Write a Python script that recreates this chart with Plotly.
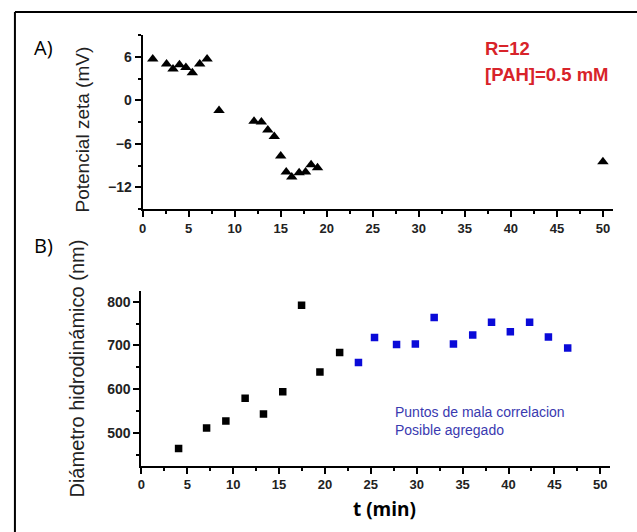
import plotly.graph_objects as go

# Panel A: zeta potential
zeta_t = [1.1, 2.6, 3.3, 4.0, 4.7, 5.4, 6.2, 7.0, 8.3, 12.1, 12.9, 13.6, 14.3, 15.0, 15.6, 16.2, 17.0, 17.7, 18.3, 19.0, 50.0]
zeta_mv = [5.7, 5.0, 4.3, 4.9, 4.5, 3.8, 5.0, 5.7, -1.4, -2.9, -3.0, -4.1, -5.0, -7.7, -9.9, -10.6, -10.0, -9.9, -8.9, -9.3, -8.5]

# Panel B: hydrodynamic diameter
diam_t_good = [4.05, 7.1, 9.2, 11.3, 13.3, 15.4, 17.45, 19.45, 21.6]
diam_nm_good = [464, 511, 527, 579, 543, 594, 792, 639, 684]
diam_t_bad = [23.65, 25.4, 27.8, 29.85, 31.9, 34.0, 36.1, 38.15, 40.2, 42.3, 44.35, 46.45]
diam_nm_bad = [661, 718, 702, 703, 764, 703, 724, 753, 731, 753, 719, 694]

x_ticks = [0, 5, 10, 15, 20, 25, 30, 35, 40, 45, 50]
zeta_ticks = [-12, -6, 0, 6]
diam_ticks = [500, 600, 700, 800]

W, H = 637, 532
def px(x):
    return x / W
def py(y):
    return 1 - y / H

fig = go.Figure()
fig.add_trace(go.Scatter(x=zeta_t, y=zeta_mv, mode="markers",
                         marker=dict(symbol="triangle-up", size=10, color="black"),
                         xaxis="x", yaxis="y", showlegend=False))
fig.add_trace(go.Scatter(x=diam_t_good, y=diam_nm_good, mode="markers",
                         marker=dict(symbol="square", size=7.5, color="black"),
                         xaxis="x2", yaxis="y2", showlegend=False))
fig.add_trace(go.Scatter(x=diam_t_bad, y=diam_nm_bad, mode="markers",
                         marker=dict(symbol="square", size=7.5, color="#0a0ad8"),
                         xaxis="x2", yaxis="y2", showlegend=False))

xtickfont = dict(family="Liberation Sans, Arial", size=13, color="#222222", weight="bold")
ytickfont = dict(family="Liberation Sans, Arial", size=14, color="#222222", weight="bold")
common_x = dict(range=[0, 51.1], tickvals=x_ticks, showline=True, linecolor="black", linewidth=2,
                ticks="outside", ticklen=6, tickwidth=2, tickcolor="black", showgrid=False,
                zeroline=False, tickfont=xtickfont,
                minor=dict(dtick=2.5, tick0=0, ticks="outside", ticklen=3, tickwidth=2,
                           tickcolor="black", showgrid=False))
common_y = dict(showline=True, linecolor="black", linewidth=2, ticks="outside", ticklen=6,
                tickwidth=2, tickcolor="black", showgrid=False, zeroline=False, tickfont=ytickfont)

fig.update_layout(
    width=W, height=H, margin=dict(l=0, r=0, t=0, b=0),
    paper_bgcolor="white", plot_bgcolor="white",
    xaxis=dict(domain=[px(139.5), px(612.9)], anchor="y", **common_x),
    yaxis=dict(domain=[py(209), py(35)], anchor="x", range=[-15, 9], tickvals=zeta_ticks,
               minor=dict(tickvals=[-15, -9, -3, 3, 9], ticks="outside", ticklen=3, tickwidth=2,
                          tickcolor="black", showgrid=False),
               **common_y),
    xaxis2=dict(domain=[px(138.3), px(610.2)], anchor="y2", **common_x),
    yaxis2=dict(domain=[py(465.5), py(290.8)], anchor="x2", range=[425, 825], tickvals=diam_ticks,
                minor=dict(tickvals=[450, 550, 650, 750], ticks="outside", ticklen=3, tickwidth=2,
                           tickcolor="black", showgrid=False),
                **common_y),
)

def ann(text, x, y, size, color="black", bold=False, angle=0, xanchor="center", family="Liberation Sans, Arial"):
    fig.add_annotation(text=text, x=px(x), y=py(y), xref="paper", yref="paper",
                       showarrow=False, xanchor=xanchor, yanchor="middle", textangle=angle,
                       font=dict(family=family, size=size, color=color,
                                 weight="bold" if bold else "normal"))

ann("A)", 28, 47, 20, xanchor="left", family="Open Sans, Liberation Sans")
ann("B)", 28, 245, 20, xanchor="left", family="Open Sans, Liberation Sans")
ann("R=12", 482, 49, 18.5, color="#d8232a", bold=True, xanchor="left")
ann("[PAH]=0.5 mM", 482, 74, 18.5, color="#d8232a", bold=True, xanchor="left")
ann("Puntos de mala correlacion", 391, 412, 14, color="#3a3ab0", xanchor="left")
ann("Posible agregado", 391, 430, 14, color="#3a3ab0", xanchor="left")
ann("Potencial zeta (mV)", 78, 130, 19, color="#222222", angle=-90)
ann("Diámetro hidrodinámico (nm)", 73, 369, 20, color="#222222", angle=-90)
ann("t (min)", 383, 509, 19, bold=True, family="Open Sans, Liberation Sans")

# frame lines (top and left)
fig.add_shape(type="line", xref="paper", yref="paper", x0=px(11), y0=py(12), x1=1, y1=py(12),
              line=dict(color="black", width=2))
fig.add_shape(type="line", xref="paper", yref="paper", x0=px(11), y0=py(12), x1=px(11), y1=0,
              line=dict(color="black", width=2))

fig.write_html("out.html", config={"displayModeBar": False},
               post_script="document.body.style.margin='0';document.body.style.overflow='hidden';")
